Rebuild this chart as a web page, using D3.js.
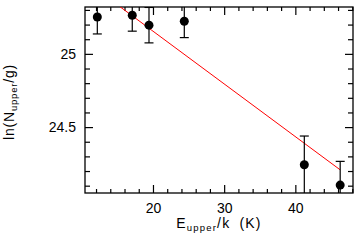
<!DOCTYPE html>
<html><head><meta charset="utf-8">
<script src="https://cdn.jsdelivr.net/npm/d3@7"></script>
<style>
html,body{margin:0;padding:0;background:#fff;}
svg{display:block;}
text{font-family:"Liberation Sans",Arial,sans-serif;fill:#000;}
</style></head>
<body>
<script>
// Data
const energies = [12.18, 17.09, 19.44, 24.40, 41.26, 46.30];      // E_upper/k (K)
const lnN      = [25.252, 25.264, 25.196, 25.223, 24.243, 24.104]; // ln(N_upper/g)
const errs     = [0.116, 0.109, 0.121, 0.112, 0.196, 0.162];
const fitSlope = -0.0360;
const fitIntercept = 25.875;
const xMajorTicks = [20, 30, 40];
const xMinorTicks = [12,14,16,18,22,24,26,28,32,34,36,38,42,44,46,48];
const yMajorTicks = [24.5, 25];
const yMinorTicks = [24.1,24.2,24.3,24.4,24.6,24.7,24.8,24.9,25.1,25.2,25.3];

const W = 358, H = 240;
const m = {left:85, right:5, top:7, bottom:47};
const iw = W - m.left - m.right, ih = H - m.top - m.bottom;

const x = d3.scaleLinear().domain([10.45, 48.1]).range([0, iw]);
const y = d3.scaleLinear().domain([24.05, 25.32]).range([ih, 0]);

const svg = d3.select("body").append("svg").attr("width", W).attr("height", H);
const g = svg.append("g").attr("transform", `translate(${m.left},${m.top})`);

svg.append("defs").append("clipPath").attr("id","clip")
  .append("rect").attr("width", iw).attr("height", ih);

function styleAxis(sel){
  sel.select(".domain").remove();
  sel.selectAll(".tick line").attr("stroke","#000").attr("stroke-width",1.2);
  sel.selectAll("text").attr("font-size", 14).attr("fill","#000");
}

// bottom
g.append("g").attr("transform",`translate(0,${ih})`)
  .call(d3.axisBottom(x).tickValues(xMajorTicks).tickSize(-8).tickPadding(10.5).tickFormat(d3.format("d")))
  .call(styleAxis);
g.append("g").attr("transform",`translate(0,${ih})`)
  .call(d3.axisBottom(x).tickValues(xMinorTicks).tickSize(-4).tickFormat(""))
  .call(styleAxis);
// top
g.append("g")
  .call(d3.axisTop(x).tickValues(xMajorTicks).tickSize(-8).tickFormat(""))
  .call(styleAxis);
g.append("g")
  .call(d3.axisTop(x).tickValues(xMinorTicks).tickSize(-4).tickFormat(""))
  .call(styleAxis);
// left
g.append("g")
  .call(d3.axisLeft(y).tickValues(yMajorTicks).tickSize(-8).tickPadding(9).tickFormat(d => d3.format("")(d)))
  .call(styleAxis);
g.append("g")
  .call(d3.axisLeft(y).tickValues(yMinorTicks).tickSize(-5).tickFormat(""))
  .call(styleAxis);
// right
g.append("g").attr("transform",`translate(${iw},0)`)
  .call(d3.axisRight(y).tickValues(yMajorTicks).tickSize(-8).tickFormat(""))
  .call(styleAxis);
g.append("g").attr("transform",`translate(${iw},0)`)
  .call(d3.axisRight(y).tickValues(yMinorTicks).tickSize(-5).tickFormat(""))
  .call(styleAxis);

// frame
g.append("rect").attr("width", iw).attr("height", ih)
  .attr("fill","none").attr("stroke","#000").attr("stroke-width",1.3);

const data = energies.map((e,i)=>({x:e, y:lnN[i], e:errs[i]}));
const plot = g.append("g").attr("clip-path","url(#clip)");

// fit line
const x0 = d3.min(energies), x1 = d3.max(energies);
plot.append("line")
  .attr("x1", x(x0)).attr("y1", y(fitIntercept + fitSlope*x0))
  .attr("x2", x(x1)).attr("y2", y(fitIntercept + fitSlope*x1))
  .attr("stroke","#ff0000").attr("stroke-width",1);

// error bars
const cap = 4.5;
const eb = plot.selectAll(".eb").data(data).join("g");
eb.append("line")
  .attr("x1", d=>x(d.x)).attr("x2", d=>x(d.x))
  .attr("y1", d=>y(d.y-d.e)).attr("y2", d=>y(d.y+d.e))
  .attr("stroke","#000").attr("stroke-width",1.2);
eb.append("line")
  .attr("x1", d=>x(d.x)-cap).attr("x2", d=>x(d.x)+cap)
  .attr("y1", d=>y(d.y-d.e)).attr("y2", d=>y(d.y-d.e))
  .attr("stroke","#000").attr("stroke-width",1.2);
eb.append("line")
  .attr("x1", d=>x(d.x)-cap).attr("x2", d=>x(d.x)+cap)
  .attr("y1", d=>y(d.y+d.e)).attr("y2", d=>y(d.y+d.e))
  .attr("stroke","#000").attr("stroke-width",1.2);
plot.selectAll(".pt").data(data).join("circle")
  .attr("cx", d=>x(d.x)).attr("cy", d=>y(d.y)).attr("r",4.5).attr("fill","#000");

// x label
const xl = svg.append("text").attr("x", m.left + iw/2).attr("y", 227.5)
  .attr("text-anchor","middle").attr("font-size",14).attr("letter-spacing",1.2).attr("word-spacing",4);
xl.append("tspan").text("E");
xl.append("tspan").attr("font-size",9.5).attr("dy",3).text("upper");
xl.append("tspan").attr("dy",-3).text("/k (K)");

// y label
const yl = svg.append("text").attr("transform",`translate(14,${m.top+ih/2+2}) rotate(-90)`)
  .attr("text-anchor","middle").attr("font-size",14).attr("letter-spacing",0.8);
yl.append("tspan").text("ln(N");
yl.append("tspan").attr("font-size",9.5).attr("dy",3).text("upper");
yl.append("tspan").attr("dy",-3).text("/g)");
</script>
</body></html>
